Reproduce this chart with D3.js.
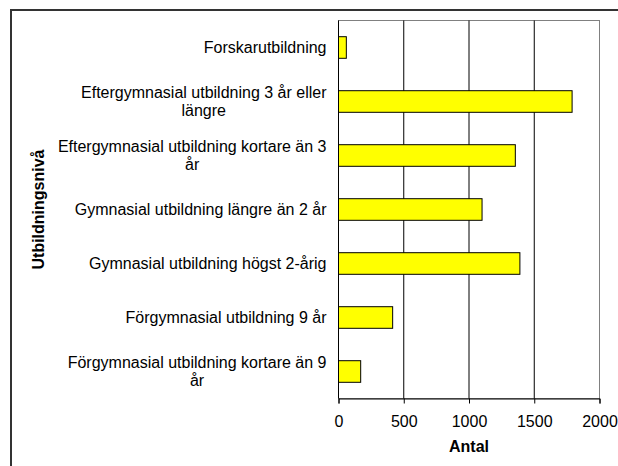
<!DOCTYPE html>
<html>
<head>
<meta charset="utf-8">
<script src="https://cdn.jsdelivr.net/npm/d3@7"></script>
<style>
  body { margin: 0; background: #fff; }
  svg { display: block; }
  text { font-family: "Liberation Sans", Arial, sans-serif; }
</style>
</head>
<body>
<svg id="chart"></svg>
<script>
// categories top to bottom, as in the chart
const categories = [
  'Forskarutbildning',
  'Eftergymnasial utbildning 3 år eller längre',
  'Eftergymnasial utbildning kortare än 3 år',
  'Gymnasial utbildning längre än 2 år',
  'Gymnasial utbildning högst 2-årig',
  'Förgymnasial utbildning 9 år',
  'Förgymnasial utbildning kortare än 9 år'
];
const values = [60, 1790, 1355, 1100, 1390, 415, 170];
const xTicks = [0, 500, 1000, 1500, 2000];
const xTitle = 'Antal';
const yTitle = 'Utbildningsnivå';

const width = 618, height = 466;
const margin = { top: 20.5, right: 18.5, bottom: 67.5, left: 338.5 };
const innerWidth = width - margin.left - margin.right;
const innerHeight = height - margin.top - margin.bottom;
const fontSize = 16;

const svg = d3.select('#chart')
    .attr('width', width)
    .attr('height', height);

// outer chart frame (only top and left visible)
svg.append('path')
    .attr('d', `M11,${height} V10 H${width}`)
    .attr('fill', 'none')
    .attr('stroke', '#333')
    .attr('stroke-width', 2);

const g = svg.append('g')
    .attr('transform', `translate(${margin.left},${margin.top})`);

const x = d3.scaleLinear()
    .domain([0, 2000])
    .range([0, innerWidth]);

const y = d3.scaleBand()
    .domain(categories)
    .range([0, innerHeight])
    .paddingInner(0.6)
    .paddingOuter(0.3);

// plot area border
g.append('rect')
    .attr('width', innerWidth)
    .attr('height', innerHeight)
    .attr('fill', 'none')
    .attr('stroke', '#808080');

// gridlines
g.append('g')
    .selectAll('line')
    .data(xTicks.slice(1, -1))
    .join('line')
    .attr('x1', d => x(d))
    .attr('x2', d => x(d))
    .attr('y1', 0)
    .attr('y2', innerHeight)
    .attr('stroke', '#000');

// bars
g.append('g')
    .selectAll('rect')
    .data(values)
    .join('rect')
    .attr('x', 0)
    .attr('y', (d, i) => y(categories[i]))
    .attr('width', d => x(d))
    .attr('height', y.bandwidth())
    .attr('fill', '#ffff00')
    .attr('stroke', '#000');

// x axis
const xAxis = g.append('g')
    .attr('transform', `translate(0,${innerHeight})`)
    .call(d3.axisBottom(x).tickValues(xTicks).tickFormat(d3.format('d')).tickSize(5).tickPadding(12));
xAxis.select('.domain').attr('stroke', '#000');
xAxis.selectAll('text')
    .attr('font-size', fontSize)
    .attr('font-family', '"Liberation Sans", Arial, sans-serif')
    .attr('fill', '#000');

// y axis line
g.append('line')
    .attr('x1', 0).attr('x2', 0)
    .attr('y1', 0).attr('y2', innerHeight)
    .attr('stroke', '#000');

// category labels, wrapped and centred inside a right aligned block
const labelRight = margin.left - 12;
const maxLine = 270;
const lineH = 18;

function textWidth(s) {
    const t = svg.append('text').attr('font-size', fontSize).text(s);
    const w = t.node().getComputedTextLength();
    t.remove();
    return w;
}

const labels = svg.append('g');
categories.forEach(c => {
    const words = c.split(' ');
    const lines = [];
    let cur = [];
    words.forEach(w => {
        cur.push(w);
        if (textWidth(cur.join(' ')) > maxLine && cur.length > 1) {
            cur.pop();
            lines.push(cur.join(' '));
            cur = [w];
        }
    });
    lines.push(cur.join(' '));

    const widths = lines.map(l => textWidth(l));
    const blockW = d3.max(widths);
    const cx = labelRight - blockW / 2;
    const cy = margin.top + y(c) + y.bandwidth() / 2;
    const y0 = cy - (lines.length - 1) * lineH / 2 + 5.5;
    lines.forEach((l, i) => {
        labels.append('text')
            .attr('x', cx - widths[i] / 2)
            .attr('y', y0 + i * lineH)
            .attr('font-size', fontSize)
            .attr('fill', '#000')
            .text(l);
    });
});

// axis titles
svg.append('text')
    .attr('x', margin.left + innerWidth / 2)
    .attr('y', 452)
    .attr('text-anchor', 'middle')
    .attr('font-size', fontSize)
    .attr('font-weight', 'bold')
    .text(xTitle);

svg.append('text')
    .attr('transform', `translate(44,${margin.top + innerHeight / 2}) rotate(-90)`)
    .attr('text-anchor', 'middle')
    .attr('font-size', fontSize)
    .attr('font-weight', 'bold')
    .text(yTitle);
</script>
</body>
</html>
